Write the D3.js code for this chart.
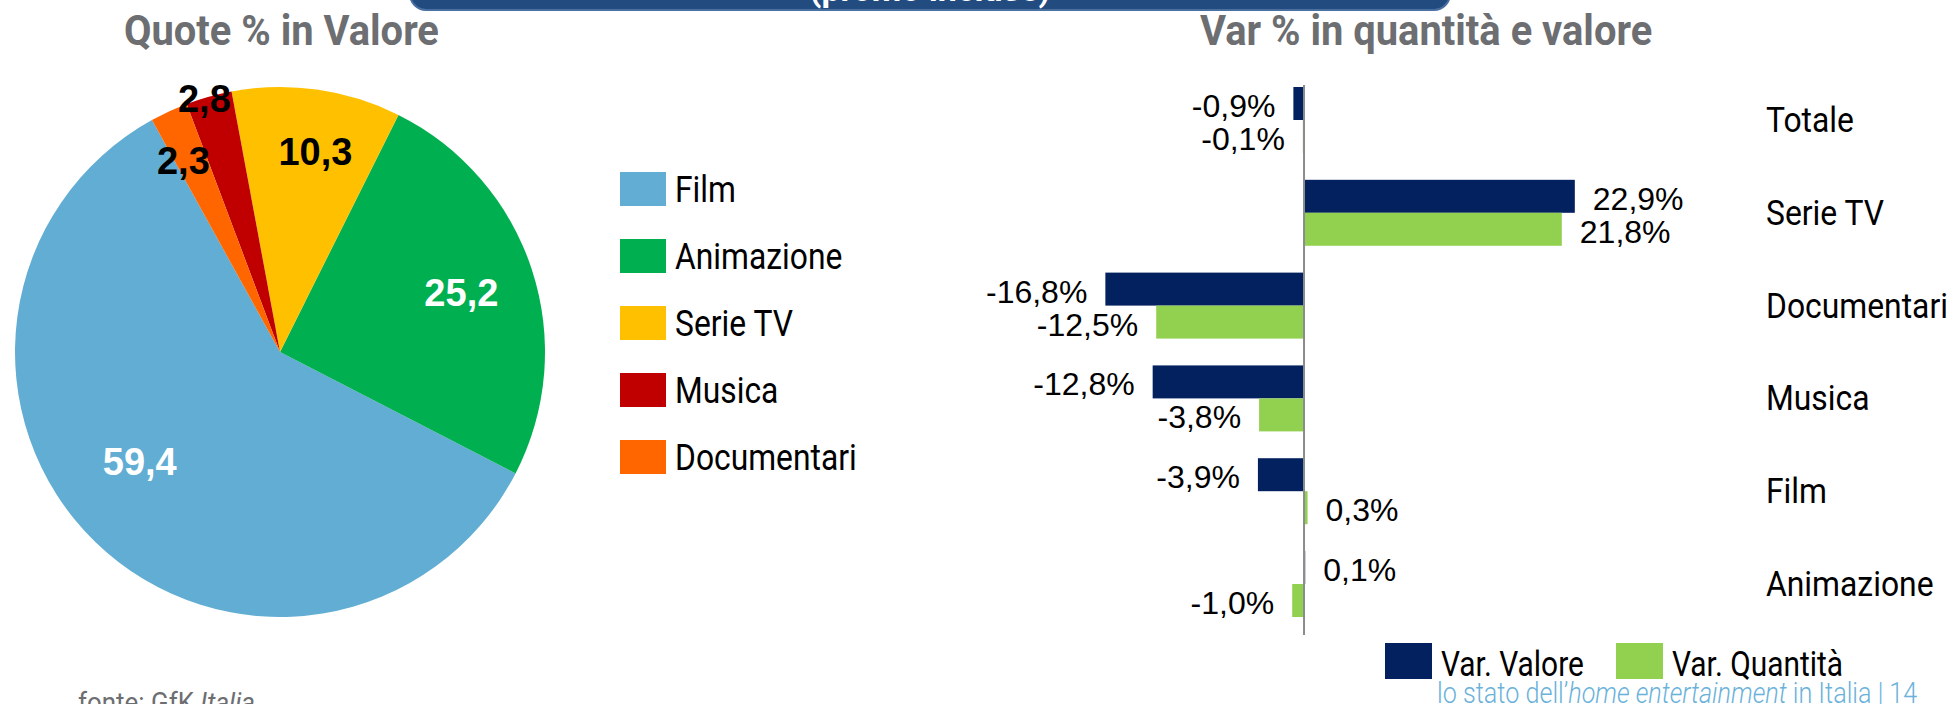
<!DOCTYPE html>
<html>
<head>
<meta charset="utf-8">
<script src="https://cdn.jsdelivr.net/npm/d3@7"></script>
<style>
  body { margin: 0; background: #fff; }
  .din { font-family: Roboto, "Noto Sans", sans-serif; }
  .arial { font-family: "Liberation Sans", Arial, sans-serif; }
</style>
</head>
<body>
<div id="vis"></div>
<script>
const FRAME_WIDTH = 1960;
const FRAME_HEIGHT = 704;

// pie: quote % in valore
const pieCategories = ["Film", "Animazione", "Serie TV", "Musica", "Documentari"];
const pieValues = [59.4, 25.2, 10.3, 2.8, 2.3];
const pieColors = ["#61add3", "#00b050", "#ffc000", "#c00000", "#ff6600"];

// bars: var % in quantita e valore
const barCategories = ["Totale", "Serie TV", "Documentari", "Musica", "Film", "Animazione"];
const varValore = [-0.9, 22.9, -16.8, -12.8, -3.9, 0.1];
const varQuantita = [-0.1, 21.8, -12.5, -3.8, 0.3, -1.0];
const seriesNames = ["Var. Valore", "Var. Quantità"];
const seriesColors = ["#03215e", "#92d050"];

// layout bits (not data)
const PIE = {cx: 280, cy: 352, r: 265};
const pieLabelR = [0.67, 0.72, 0.77, 1.0, 0.81];   // label distance as share of radius
const pieLabelTurn = [8, 0, 2, -1, -2];            // small angle nudge, degrees
const pieLabelFill = ["#fff", "#fff", "#000", "#000", "#000"];

const itFormat = d3.formatLocale({decimal: ",", thousands: ".", grouping: [3], currency: ["", "€"], minus: "-"});
const f1 = itFormat.format(".1f");

const SVG = d3.select("#vis")
  .append("svg")
    .attr("width", FRAME_WIDTH)
    .attr("height", FRAME_HEIGHT);

// text squeezed horizontally a bit, the original font is narrower than Roboto
function narrowText(x, y, txt, size, sx, opts = {}) {
  const t = SVG.append("text")
      .attr("class", "din")
      .attr("transform", "translate(" + x + "," + y + ") scale(" + sx + ",1)")
      .attr("font-size", size)
      .attr("font-weight", opts.weight || 400)
      .attr("fill", opts.fill || "#000")
      .attr("text-anchor", opts.anchor || "start")
      .text(txt);
  return t;
}

// banner at the top (cut by the frame)
SVG.append("rect")
    .attr("x", 410).attr("y", -34)
    .attr("width", 1040).attr("height", 44)
    .attr("rx", 16)
    .attr("fill", "#224c80")
    .attr("stroke", "#4a70a2")
    .attr("stroke-width", 2);
SVG.append("text")
    .attr("class", "din")
    .attr("x", 930).attr("y", 1)
    .attr("text-anchor", "middle")
    .attr("font-size", 34).attr("font-weight", 700)
    .attr("fill", "#fff")
    .text("(promo incluse)");

// titles
narrowText(124, 45, "Quote % in Valore", 42, 0.95, {weight: 700, fill: "#6d6e71"});
narrowText(1200, 45, "Var % in quantità e valore", 42, 0.95, {weight: 700, fill: "#6d6e71"});

// ---- pie ----
const pie = d3.pie()
    .sort(null)
    .startAngle(-28.9 * Math.PI / 180)
    .endAngle(-388.9 * Math.PI / 180);
const arcs = pie(pieValues);
const arc = d3.arc().innerRadius(0).outerRadius(PIE.r);

const PIE_G = SVG.append("g")
    .attr("transform", "translate(" + PIE.cx + "," + PIE.cy + ")");

PIE_G.selectAll(".slice")
  .data(arcs)
  .enter()
  .append("path")
    .attr("class", "slice")
    .attr("d", arc)
    .attr("fill", (d, i) => pieColors[i]);

PIE_G.selectAll(".plabel")
  .data(arcs)
  .enter()
  .append("text")
    .attr("class", "plabel arial")
    .attr("transform", (d, i) => {
      const a = (d.startAngle + d.endAngle) / 2 + pieLabelTurn[i] * Math.PI / 180;
      const rr = PIE.r * pieLabelR[i];
      return "translate(" + (Math.sin(a) * rr) + "," + (-Math.cos(a) * rr) + ")";
    })
    .attr("text-anchor", "middle")
    .attr("dy", "0.36em")
    .attr("font-size", 38)
    .attr("font-weight", 700)
    .attr("fill", (d, i) => pieLabelFill[i])
    .text(d => f1(d.data));

// pie legend
const LEG_Y = d3.scalePoint().domain(pieCategories).range([189, 457]);
pieCategories.forEach((c, i) => {
  SVG.append("rect")
      .attr("x", 620).attr("y", LEG_Y(c) - 17)
      .attr("width", 46).attr("height", 34)
      .attr("fill", pieColors[i]);
  narrowText(675, LEG_Y(c) + 13, c, 37, 0.86);
});

// ---- bars ----
const X_SCALE = d3.scaleLinear()
    .domain([-17, 23])
    .range([1103, 1576]);

const Y_SCALE = d3.scaleBand()
    .domain(barCategories)
    .range([87, 617])
    .paddingInner(0.289)
    .paddingOuter(0);

const SUB = d3.scaleBand()
    .domain([0, 1])
    .range([0, Y_SCALE.bandwidth()]);

const barData = [];
barCategories.forEach((c, i) => {
  barData.push({cat: c, s: 0, v: varValore[i]});
  barData.push({cat: c, s: 1, v: varQuantita[i]});
});

SVG.selectAll(".bar")
  .data(barData)
  .enter()
  .append("rect")
    .attr("class", "bar")
    .attr("x", d => X_SCALE(Math.min(0, d.v)))
    .attr("y", d => Y_SCALE(d.cat) + SUB(d.s))
    .attr("width", d => Math.abs(X_SCALE(d.v) - X_SCALE(0)))
    .attr("height", SUB.bandwidth())
    .attr("fill", d => seriesColors[d.s]);

// zero line
SVG.append("line")
    .attr("x1", X_SCALE(0)).attr("x2", X_SCALE(0))
    .attr("y1", 85).attr("y2", 635)
    .attr("stroke", "#8c8c8c")
    .attr("stroke-width", 2);

// value labels
SVG.selectAll(".vlabel")
  .data(barData)
  .enter()
  .append("text")
    .attr("class", "vlabel arial")
    .attr("x", d => d.v < 0 ? X_SCALE(d.v) - 18 : X_SCALE(d.v) + 18)
    .attr("y", d => Y_SCALE(d.cat) + SUB(d.s) + SUB.bandwidth() / 2 + 2)
    .attr("dy", "0.36em")
    .attr("text-anchor", d => d.v < 0 ? "end" : "start")
    .attr("font-size", 32)
    .attr("fill", "#000")
    .text(d => f1(d.v) + "%");

// category names on the right
barCategories.forEach(c => {
  narrowText(1766, Y_SCALE(c) + Y_SCALE.bandwidth() / 2 + 12, c, 35, 0.91);
});

// bar legend
const SER_X = [1385, 1616];
seriesNames.forEach((s, i) => {
  SVG.append("rect")
      .attr("x", SER_X[i]).attr("y", 643)
      .attr("width", 47).attr("height", 36)
      .attr("fill", seriesColors[i]);
  narrowText(SER_X[i] + 56, 676, s, 36, 0.83);
});

// footer
const foot = SVG.append("text")
    .attr("class", "din")
    .attr("transform", "translate(1437,703) scale(0.84,1)")
    .attr("font-size", 30)
    .attr("font-weight", 300)
    .attr("fill", "#6ab2da");
foot.append("tspan").text("lo stato dell\u2019");
foot.append("tspan").attr("font-style", "italic").text("home entertainment");
foot.append("tspan").text(" in Italia | 14");

const src = SVG.append("text")
    .attr("class", "din")
    .attr("transform", "translate(78,712) scale(0.96,1)")
    .attr("font-size", 27)
    .attr("fill", "#6d6e71");
src.append("tspan").text("fonte: GfK ");
src.append("tspan").attr("font-style", "italic").text("Italia");
</script>
</body>
</html>
